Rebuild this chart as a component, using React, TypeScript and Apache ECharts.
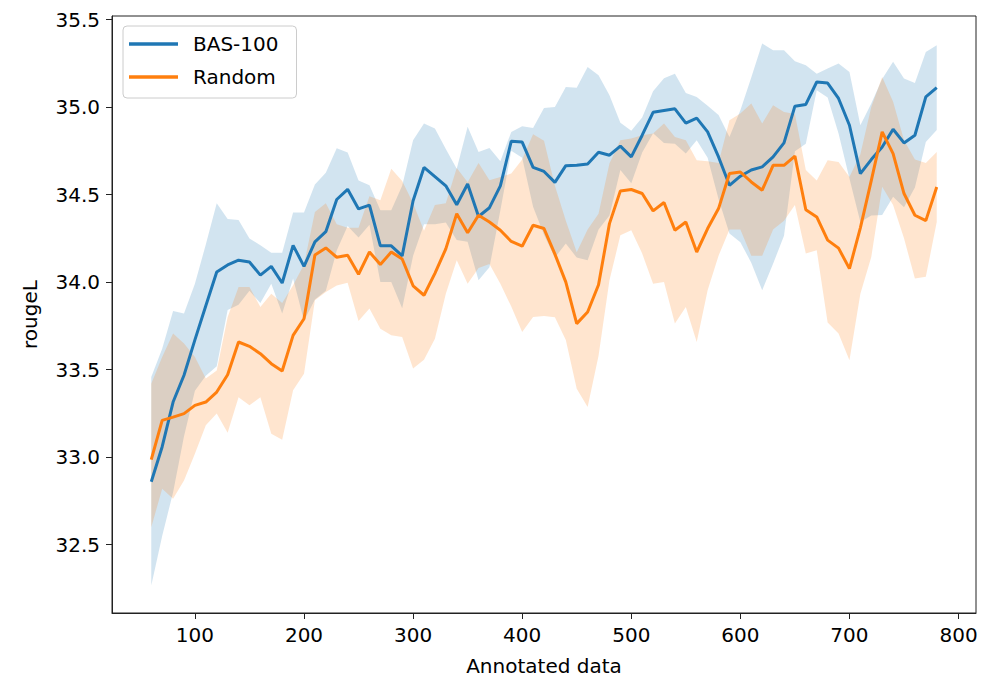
import React, { useEffect, useRef } from "react";
import * as echarts from "echarts";

const annotated = [
  60, 70, 80, 90, 100, 110, 120, 130, 140, 150,
  160, 170, 180, 190, 200, 210, 220, 230, 240, 250,
  260, 270, 280, 290, 300, 310, 320, 330, 340, 350,
  360, 370, 380, 390, 400, 410, 420, 430, 440, 450,
  460, 470, 480, 490, 500, 510, 520, 530, 540, 550,
  560, 570, 580, 590, 600, 610, 620, 630, 640, 650,
  660, 670, 680, 690, 700, 710, 720, 730, 740, 750,
  760, 770, 780,
];

const basMean = [
  32.86, 33.06, 33.315, 33.468, 33.67, 33.865, 34.058, 34.098, 34.125, 34.115,
  34.04, 34.09, 33.995, 34.21, 34.09, 34.23, 34.288, 34.472, 34.53, 34.418,
  34.44, 34.207, 34.207, 34.15, 34.465, 34.655, 34.603, 34.55, 34.442, 34.56,
  34.375, 34.425, 34.55, 34.805, 34.8, 34.655, 34.632, 34.57, 34.665, 34.668,
  34.675, 34.742, 34.725, 34.777, 34.715, 34.839, 34.97, 34.98, 34.99, 34.908,
  34.937, 34.858, 34.715, 34.553, 34.605, 34.64, 34.658, 34.715, 34.795, 35.005,
  35.015, 35.143, 35.137, 35.049, 34.896, 34.62, 34.7, 34.772, 34.873, 34.795,
  34.839, 35.058, 35.111,
];
const basUpper = [
  33.458, 33.62, 33.835, 33.82, 33.99, 34.215, 34.45, 34.36, 34.355, 34.249,
  34.21, 34.167, 34.168, 34.398, 34.398, 34.558, 34.625, 34.765, 34.74, 34.581,
  34.553, 34.41, 34.41, 34.55, 34.81, 34.906, 34.878, 34.76, 34.648, 34.888,
  34.743, 34.766, 34.69, 34.858, 34.89, 34.88, 34.995, 35.0, 35.115, 35.11,
  35.229, 35.182, 35.068, 34.91, 34.865, 34.94, 35.09, 35.165, 35.19, 35.08,
  35.058, 35.008, 34.955, 34.829, 34.982, 35.169, 35.363, 35.325, 35.325, 35.262,
  35.239, 35.19, 35.22, 35.249, 35.2, 34.896, 35.02, 35.16, 35.258, 35.163,
  35.138, 35.315, 35.353,
];
const basLower = [
  32.267, 32.55, 32.8, 33.12, 33.38, 33.465, 33.52, 33.84, 33.87, 33.95,
  33.88, 33.99, 33.82, 34.02, 33.78, 33.9, 33.95, 34.18, 34.32, 34.255,
  34.327, 34.0, 34.0, 33.85, 34.15, 34.33, 34.33, 34.34, 34.24, 34.23,
  34.01, 34.085, 34.41, 34.75, 34.71, 34.43, 34.27, 34.14, 34.22, 34.14,
  34.125, 34.3, 34.38, 34.64, 34.565, 34.74, 34.85, 34.795, 34.79, 34.735,
  34.81, 34.71, 34.475, 34.277, 34.228, 34.111, 33.953, 34.105, 34.265, 34.748,
  34.79, 35.096, 35.054, 34.849, 34.592, 34.344, 34.38, 34.384, 34.488, 34.427,
  34.54, 34.8, 34.869,
];

const randomMean = [
  32.986, 33.21, 33.229, 33.249, 33.296, 33.315, 33.372, 33.471, 33.658, 33.633,
  33.591, 33.534, 33.492, 33.696, 33.791, 34.155, 34.195, 34.142, 34.153, 34.045,
  34.172, 34.1, 34.172, 34.132, 33.979, 33.925, 34.05, 34.19, 34.391, 34.282,
  34.382, 34.343, 34.296, 34.232, 34.205, 34.325, 34.306, 34.16, 34.0, 33.763,
  33.829, 33.985, 34.334, 34.521, 34.529, 34.506, 34.407, 34.455, 34.296, 34.343,
  34.172, 34.306, 34.42, 34.62, 34.629, 34.572, 34.525, 34.667, 34.667, 34.72,
  34.413, 34.372, 34.24, 34.194, 34.077, 34.31, 34.58, 34.858, 34.734, 34.506,
  34.382, 34.351, 34.543,
];
const randomUpper = [
  33.42, 33.572, 33.706, 33.649, 33.572, 33.45, 33.495, 33.8, 33.972, 33.972,
  33.858, 33.934, 33.88, 33.982, 34.1, 34.4, 34.45, 34.33, 34.31, 34.31,
  34.49, 34.467, 34.648, 34.577, 34.45, 34.294, 34.44, 34.45, 34.652, 34.57,
  34.68, 34.582, 34.6, 34.62, 34.7, 34.845, 34.808, 34.55, 34.35, 34.17,
  34.3, 34.39, 34.677, 34.81, 34.82, 34.839, 34.849, 34.906, 34.829, 34.81,
  34.696, 34.69, 34.68, 34.924, 34.963, 35.02, 34.906, 35.01, 34.972, 34.96,
  34.64, 34.58, 34.696, 34.686, 34.6, 34.73, 35.0, 35.172, 35.03, 34.81,
  34.7, 34.68, 34.743,
];
const randomLower = [
  32.6, 32.82, 32.763, 32.867, 33.02, 33.182, 33.249, 33.14, 33.343, 33.296,
  33.343, 33.134, 33.1, 33.382, 33.477, 33.896, 33.944, 33.98, 33.996, 33.778,
  33.849, 33.734, 33.696, 33.686, 33.506, 33.557, 33.677, 33.934, 34.125, 33.991,
  34.08, 34.104, 33.99, 33.86, 33.715, 33.801, 33.806, 33.8, 33.67, 33.391,
  33.286, 33.58, 34.01, 34.267, 34.296, 34.163, 33.991, 34.0, 33.763, 33.858,
  33.658, 33.953, 34.15, 34.3, 34.3, 34.15, 34.15, 34.3, 34.35, 34.44,
  34.163, 34.182, 33.77, 33.706, 33.553, 33.934, 34.143, 34.544, 34.44, 34.25,
  34.02, 34.03, 34.343,
];

const xTicks = [100, 200, 300, 400, 500, 600, 700, 800];
const yTicks = [32.5, 33.0, 33.5, 34.0, 34.5, 35.0, 35.5];

const BLUE = "#1f77b4";
const ORANGE = "#ff7f0e";
const FONT = "DejaVu Sans";

export default function App() {
  const ref = useRef<HTMLDivElement>(null);

  useEffect(() => {
    const chart = echarts.init(ref.current!, null, { renderer: "svg" });
    const pairs = (ys: number[]) => annotated.map((x, i) => [x, ys[i]]);

    const band = (name: string, lo: number[], hi: number[], color: string) => ({
      name,
      type: "custom",
      silent: true,
      z: 1,
      data: annotated.map((x, i) => [x, lo[i], hi[i]]),
      encode: { x: 0, y: [1, 2] },
      renderItem: (params: any, api: any) => {
        if (params.dataIndex !== 0) return null;
        const top = annotated.map((x, i) => api.coord([x, hi[i]]));
        const bottom = annotated
          .map((x, i) => api.coord([x, lo[i]]))
          .reverse();
        return {
          type: "polygon",
          shape: { points: top.concat(bottom) },
          style: { fill: color, opacity: 0.2, stroke: "none" },
        };
      },
    });

    chart.setOption({
      animation: false,
      backgroundColor: "#ffffff",
      textStyle: { fontFamily: FONT },
      grid: {
        left: 112,
        right: 6,
        top: 16,
        bottom: 65,
        outerBoundsMode: "none",
        containLabel: false,
        show: true,
        borderColor: "#222",
        borderWidth: 1,
        backgroundColor: "transparent",
      },
      legend: {
        data: [{ name: "BAS-100" }, { name: "Random" }],
        orient: "vertical",
        left: 123,
        top: 26,
        icon: "rect",
        itemWidth: 49,
        itemHeight: 3.5,
        itemGap: 11,
        padding: [7, 18, 10, 6],
        backgroundColor: "rgba(255,255,255,0.8)",
        borderColor: "#cccccc",
        borderWidth: 1,
        borderRadius: 4,
        selectedMode: false,
        textStyle: {
          fontSize: 20,
          color: "#000",
          fontFamily: FONT,
          lineHeight: 22,
          padding: [0, 0, 0, 10],
        },
      },
      xAxis: {
        type: "value",
        min: 24,
        max: 816,
        splitNumber: 8,
        name: "Annotated data",
        nameLocation: "middle",
        nameGap: 43,
        nameTextStyle: { fontSize: 20, lineHeight: 20, color: "#000", fontFamily: FONT },
        axisLine: { show: true, lineStyle: { color: "#222", width: 1 } },
        axisTick: { show: true, length: 6, customValues: xTicks, lineStyle: { color: "#222" } },
        axisLabel: {
          customValues: xTicks,
          fontSize: 20,
          color: "#000",
          margin: 12,
          fontFamily: FONT,
        },
        splitLine: { show: false },
      },
      yAxis: {
        type: "value",
        min: 32.11,
        max: 35.52,
        name: "rougeL",
        nameLocation: "middle",
        nameGap: 72,
        nameTextStyle: { fontSize: 20, color: "#000", fontFamily: FONT },
        axisLine: { show: true, lineStyle: { color: "#222", width: 1 } },
        axisTick: { show: true, length: 6, customValues: yTicks, lineStyle: { color: "#222" } },
        axisLabel: {
          customValues: yTicks,
          fontSize: 20,
          color: "#000",
          margin: 12,
          fontFamily: FONT,
          formatter: (v: number) => v.toFixed(1),
        },
        splitLine: { show: false },
      },
      series: [
        band("BAS-100 band", basLower, basUpper, BLUE),
        band("Random band", randomLower, randomUpper, ORANGE),
        {
          name: "BAS-100",
          type: "line",
          data: pairs(basMean),
          showSymbol: false,
          symbol: "none",
          z: 3,
          color: BLUE,
          lineStyle: { color: BLUE, width: 3 },
        },
        {
          name: "Random",
          type: "line",
          data: pairs(randomMean),
          showSymbol: false,
          symbol: "none",
          z: 4,
          color: ORANGE,
          lineStyle: { color: ORANGE, width: 3 },
        },
      ],
    });

    return () => chart.dispose();
  }, []);

  return (
    <div
      ref={ref}
      style={{ position: "fixed", left: 0, top: 0, width: 982, height: 678 }}
    />
  );
}
